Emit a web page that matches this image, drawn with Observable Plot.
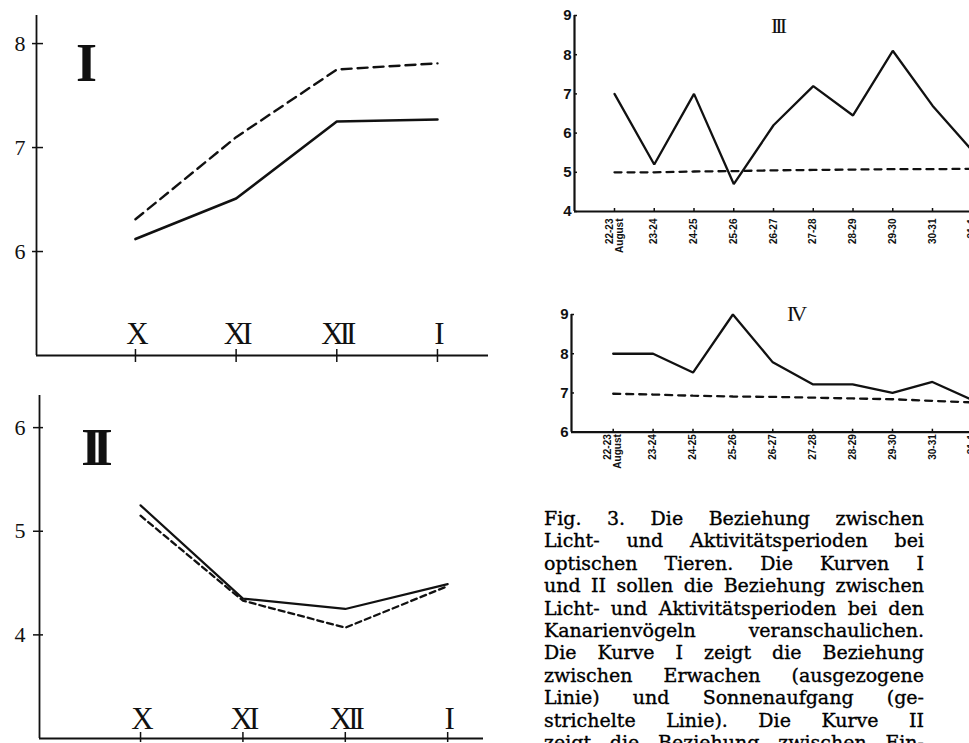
<!DOCTYPE html>
<html><head><meta charset="utf-8">
<script src="https://cdn.jsdelivr.net/npm/d3@7"></script>
<script src="https://cdn.jsdelivr.net/npm/@observablehq/plot@0.6"></script>
<style>
html,body{margin:0;padding:0;background:#fff;overflow:hidden;width:969px;height:743px;}
#page{position:relative;width:969px;height:743px;overflow:hidden;background:#fff;}
.panel{position:absolute;}
.panel svg{display:block;max-width:none !important;}
#caption{position:absolute;left:544px;top:507px;width:380px;font-family:"DejaVu Serif",serif;font-size:19px;line-height:22.4px;color:#000;-webkit-text-stroke:0.35px #000;}
#caption .ln{display:flex;justify-content:space-between;white-space:nowrap;}
</style></head><body>
<div id="page">
  <div class="panel" id="p1" style="left:0;top:0"></div>
  <div class="panel" id="p2" style="left:0;top:370px"></div>
  <div class="panel" id="p3" style="left:540px;top:0"></div>
  <div class="panel" id="p4" style="left:540px;top:290px"></div>
  <div id="caption"></div>
</div>
<script>
// ---- Data ----
const months = ["X", "XI", "XII", "I"];
const erwachenI = [6.12, 6.51, 7.25, 7.27];        // solid, curve I
const sonnenaufgangI = [6.31, 7.10, 7.75, 7.81];   // dashed, curve I
const ticksI = [6, 7, 8];
const solidII = [5.25, 4.35, 4.25, 4.49];
const dashedII = [5.15, 4.33, 4.07, 4.47];
const ticksII = [4, 5, 6];
const days = ["22-23\nAugust", "23-24", "24-25", "25-26", "26-27", "27-28", "28-29", "29-30", "30-31", "31-1"];
const solidIII = [7.0, 5.2, 7.0, 4.7, 6.2, 7.2, 6.45, 8.1, 6.7, 5.55];
const dashedIII = [5.0, 5.0, 5.02, 5.03, 5.05, 5.06, 5.07, 5.08, 5.08, 5.09];
const ticksIII = [4, 5, 6, 7, 8, 9];
const solidIV = [8.0, 8.0, 7.52, 9.0, 7.78, 7.22, 7.22, 7.0, 7.28, 6.82];
const dashedIV = [6.98, 6.96, 6.93, 6.91, 6.9, 6.88, 6.86, 6.84, 6.8, 6.76];
const ticksIV = [6, 7, 8, 9];
const captionLines = [
  "Fig. 3. Die Beziehung zwischen",
  "Licht- und Aktivitätsperioden bei",
  "optischen Tieren. Die Kurven I",
  "und II sollen die Beziehung zwischen",
  "Licht- und Aktivitätsperioden bei den",
  "Kanarienvögeln veranschaulichen.",
  "Die Kurve I zeigt die Beziehung",
  "zwischen Erwachen (ausgezogene",
  "Linie) und Sonnenaufgang (ge-",
  "strichelte Linie). Die Kurve II",
  "zeigt die Beziehung zwischen Ein-"
];

const ink = "#111";
const rows = arr => arr.map((v, i) => ({i, v}));

function panel(o) {
  const idx = o.cats.map((d, i) => i);
  const svg = Plot.plot({
    width: o.width, height: o.height,
    marginTop: o.mt, marginBottom: o.mb, marginLeft: o.ml, marginRight: o.mr,
    x: {type: "linear", domain: o.xDomain, label: null},
    y: {type: "linear", domain: o.yDomain, label: null},
    style: {background: "white", color: ink, fontFamily: o.tickFont},
    marks: [
      Plot.ruleX([o.xDomain[0]], {stroke: ink, strokeWidth: o.axisW}),
      Plot.ruleY([o.yDomain[0]], {stroke: ink, strokeWidth: o.axisW}),
      Plot.axisX({ticks: idx, tickSize: o.xTickSize, dy: o.xTickDy, tickFormat: () => "", stroke: ink, strokeWidth: 1.5}),
      Plot.axisX({ticks: idx, tickSize: 0, tickPadding: o.xLabelPad, tickRotate: o.xRotate || 0,
        lineAnchor: o.xLineAnchor, tickFormat: i => o.cats[i], fontSize: o.xFontSize,
        fontFamily: o.xFont, fontWeight: o.xWeight || "normal", fill: ink,
        stroke: o.xStroke ? ink : "none", strokeWidth: o.xStroke || 0}),
      Plot.axisY({ticks: o.yTicks, tickSize: o.yTickSize, dx: o.yTickDx, tickFormat: () => "", stroke: ink, strokeWidth: 1.5}),
      Plot.axisY({ticks: o.yTicks, tickSize: 0, tickPadding: o.yLabelPad, fontSize: o.yFontSize,
        tickFormat: d => String(d),
        fontFamily: o.tickFont, fontWeight: o.yWeight || "normal", fill: ink,
        stroke: o.yStroke ? ink : "none", strokeWidth: o.yStroke || 0}),
      Plot.line(rows(o.dashed), {x: "i", y: "v", stroke: ink, strokeWidth: o.dashW, strokeDasharray: o.dash, strokeLinejoin: "miter"}),
      Plot.line(rows(o.solid), {x: "i", y: "v", stroke: ink, strokeWidth: o.solidW, strokeLinejoin: "miter"}),
      Plot.text([o.label], {frameAnchor: "top-left", dx: o.labelDx, dy: o.labelDy, lineAnchor: "top",
        textAnchor: "middle", fontSize: o.labelSize, fontWeight: o.labelWeight || "bold",
        fontFamily: "Liberation Serif", fill: ink})
    ]
  });
  d3.select(svg).selectAll('g[aria-label="x-axis tick label"] text').style("letter-spacing", o.xLetter || "0px");
  d3.select(svg).selectAll('g[aria-label="text"] text').style("letter-spacing", o.labelLetter || "0px");
  document.getElementById(o.id).appendChild(svg);
}

panel({
  id: "p1", cats: months, solid: erwachenI, dashed: sonnenaufgangI, yTicks: ticksI,
  width: 500, height: 370, mt: 15, mb: 15, ml: 36, mr: 12,
  xDomain: [-0.983, 3.507], yDomain: [5, 8.27],
  axisW: 1.8, xTickSize: 13, xTickDy: -6, xLabelPad: -12, xLineAnchor: "bottom",
  xFontSize: 31, xFont: "Liberation Serif", xLetter: "-4px", xStroke: 0.6,
  yTickSize: 11, yTickDx: 7, yLabelPad: 11, yFontSize: 22, yStroke: 0.5, tickFont: "Liberation Serif",
  solidW: 2.6, dashW: 2.4, dash: "10,6",
  label: "I", labelDx: 50, labelDy: 27, labelSize: 54
});

panel({
  id: "p2", cats: months, solid: solidII, dashed: dashedII, yTicks: ticksII,
  width: 500, height: 373, mt: 25, mb: 5, ml: 39, mr: 17,
  xDomain: [-0.987, 3.35], yDomain: [3.0, 6.31],
  axisW: 1.8, xTickSize: 10, xTickDy: -6, xLabelPad: -10, xLineAnchor: "bottom",
  xFontSize: 31, xFont: "Liberation Serif", xLetter: "-4px", xStroke: 0.4,
  yTickSize: 10, yTickDx: 4, yLabelPad: 14, yFontSize: 22, yStroke: 0.3, tickFont: "Liberation Serif",
  solidW: 2.2, dashW: 2.3, dash: "6,4",
  label: "II", labelDx: 53, labelDy: 33, labelSize: 52, labelLetter: "-9px"
});

panel({
  id: "p3", cats: days, solid: solidIII, dashed: dashedIII, yTicks: ticksIII,
  width: 429, height: 260, mt: 15, mb: 49, ml: 34, mr: 0,
  xDomain: [-1.006, 8.93], yDomain: [4, 9],
  axisW: 2.2, xTickSize: 3, xTickDy: -3, xLabelPad: 7, xLineAnchor: "middle", xRotate: -90,
  xFontSize: 10, xFont: "Liberation Sans", xWeight: "bold",
  yTickSize: 3, yTickDx: 3, yLabelPad: 3, yFontSize: 15, yWeight: "bold", tickFont: "Liberation Sans",
  solidW: 2.3, dashW: 2.3, dash: "7,6",
  label: "III", labelDx: 203, labelDy: 2, labelSize: 22, labelWeight: "normal", labelLetter: "-3px"
});

panel({
  id: "p4", cats: days, solid: solidIV, dashed: dashedIV, yTicks: ticksIV,
  width: 429, height: 185, mt: 24, mb: 43.3, ml: 31, mr: 0,
  xDomain: [-1.045, 8.93], yDomain: [6, 9],
  axisW: 2.2, xTickSize: 3, xTickDy: -3, xLabelPad: 2, xLineAnchor: "middle", xRotate: -90,
  xFontSize: 10, xFont: "Liberation Sans", xWeight: "bold",
  yTickSize: 3, yTickDx: 3, yLabelPad: 3, yFontSize: 15, yWeight: "bold", tickFont: "Liberation Sans",
  solidW: 2.3, dashW: 2.3, dash: "7,6",
  label: "IV", labelDx: 224, labelDy: -9, labelSize: 22, labelWeight: "normal", labelLetter: "-3px"
});

// caption
const cap = d3.select("#caption");
captionLines.forEach(line => {
  const ln = cap.append("div").attr("class", "ln");
  line.split(" ").forEach(w => ln.append("span").text(w));
});
</script>
</body></html>
